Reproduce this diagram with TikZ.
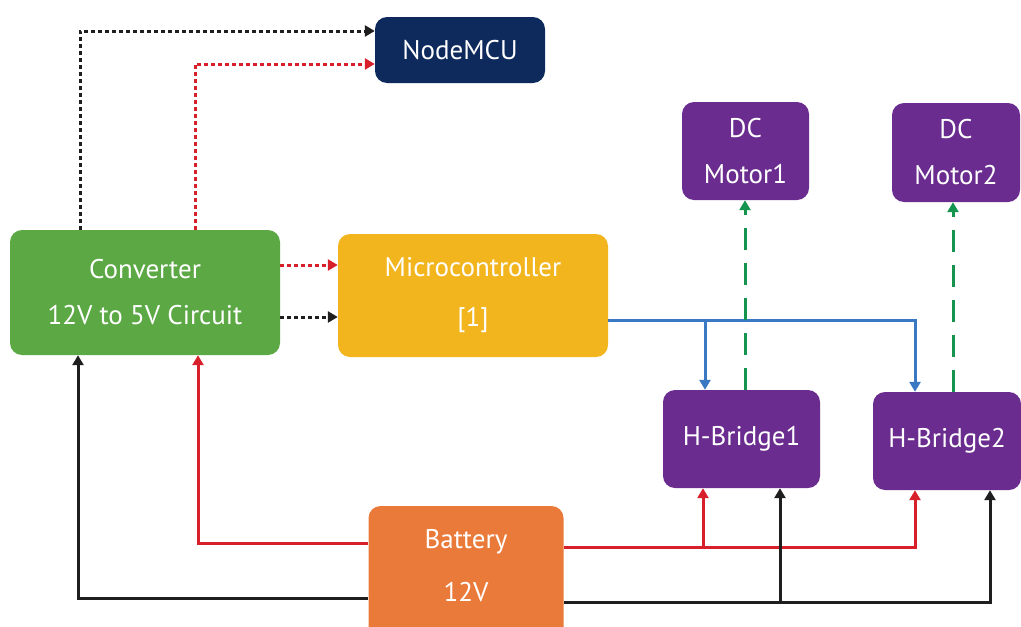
\documentclass[tikz,border=0pt]{standalone}
\usepackage{fontspec}
\setmainfont{PT Sans}
\usetikzlibrary{arrows.meta}
\definecolor{cgreen}{HTML}{5BA845}
\definecolor{cyellow}{HTML}{F2B51E}
\definecolor{cnavy}{HTML}{0E2A5C}
\definecolor{cpurple}{HTML}{6A2C8E}
\definecolor{corange}{HTML}{EA7A3A}
\definecolor{cred}{HTML}{D8202A}
\definecolor{cblue}{HTML}{3A78C4}
\definecolor{cdgreen}{HTML}{159450}
\definecolor{cblack}{HTML}{1E1E1E}
\begin{document}
\begin{tikzpicture}[x=1pt,y=-1pt,
  blk/.style={rounded corners=12pt,text=white,align=center,font=\fontsize{27}{46}\selectfont,inner sep=0pt},
  wire/.style={line width=3pt,-{Triangle[length=10pt,width=11pt]}},
  dotw/.style={wire,dash pattern=on 3.5pt off 3.5pt},
  dashw/.style={wire,dash pattern=on 22pt off 13pt}]
\useasboundingbox (0,0) rectangle (1021,627);
% boxes
\node[blk,fill=cnavy,minimum width=170pt,minimum height=66pt] (mcu) at (460,50) {NodeMCU};
\node[blk,fill=cgreen,minimum width=270pt,minimum height=125pt] (conv) at (145,292.5) {Converter\\12V to 5V Circuit};
\node[blk,fill=cyellow,minimum width=270pt,minimum height=123pt,font=\fontsize{27}{50}\selectfont] (micro) at (473,295.5) {Microcontroller\\{[1]}};
\node[blk,fill=cpurple,minimum width=127pt,minimum height=98pt] (m1) at (745.5,151) {DC\\Motor1};
\node[blk,fill=cpurple,minimum width=128pt,minimum height=99pt] (m2) at (956,152.5) {DC\\Motor2};
\node[blk,fill=cpurple,minimum width=157pt,minimum height=98pt] (h1) at (741.5,439) {H-Bridge1};
\node[blk,fill=cpurple,minimum width=148pt,minimum height=98pt] (h2) at (947,441) {H-Bridge2};
\node[blk,fill=corange,minimum width=195pt,minimum height=135pt] (bat) at (466,573.5) {};
\node[text=white,align=center,font=\fontsize{27}{53}\selectfont,inner sep=0pt] (battxt) at (466,566) {Battery\\12V};
% dotted converter -> NodeMCU
\draw[dotw,draw=cblack] (conv.north -| 80,0) |- (mcu.west |- 0,31);
\draw[dotw,draw=cred] (conv.north -| 195,0) |- (mcu.west |- 0,64);
% dotted converter -> micro
\draw[dotw,draw=cred] (conv.east |- 0,265) -- (micro.west |- 0,265);
\draw[dotw,draw=cblack] (conv.east |- 0,317) -- (micro.west |- 0,317);
% blue control lines
\coordinate (bj) at (705,320);
\draw[wire,draw=cblue] (micro.east |- 0,320) -| (h2.north -| 915,0);
\draw[wire,draw=cblue] (bj) -- (h1.north -| 705,0);
% green dashed to motors
\draw[dashw,draw=cdgreen] (h1.north -| 745,0) -- (m1.south -| 745,0);
\draw[dashw,draw=cdgreen] (h2.north -| 953,0) -- (m2.south -| 953,0);
% red power lines
\draw[wire,draw=cred] (bat.west |- 0,543) -| (conv.south -| 198,0);
\draw[wire,draw=cred] (bat.east |- 0,547) -| (h2.south -| 915,0);
\coordinate (rj) at (703,547);
\draw[wire,draw=cred] (rj) -- (h1.south -| 703,0);
% black ground lines
\draw[wire,draw=cblack] (bat.west |- 0,598) -| (conv.south -| 78,0);
\draw[wire,draw=cblack] (bat.east |- 0,602) -| (h2.south -| 990,0);
\coordinate (kj) at (780,602);
\draw[wire,draw=cblack] (kj) -- (h1.south -| 780,0);
\end{tikzpicture}
\end{document}
